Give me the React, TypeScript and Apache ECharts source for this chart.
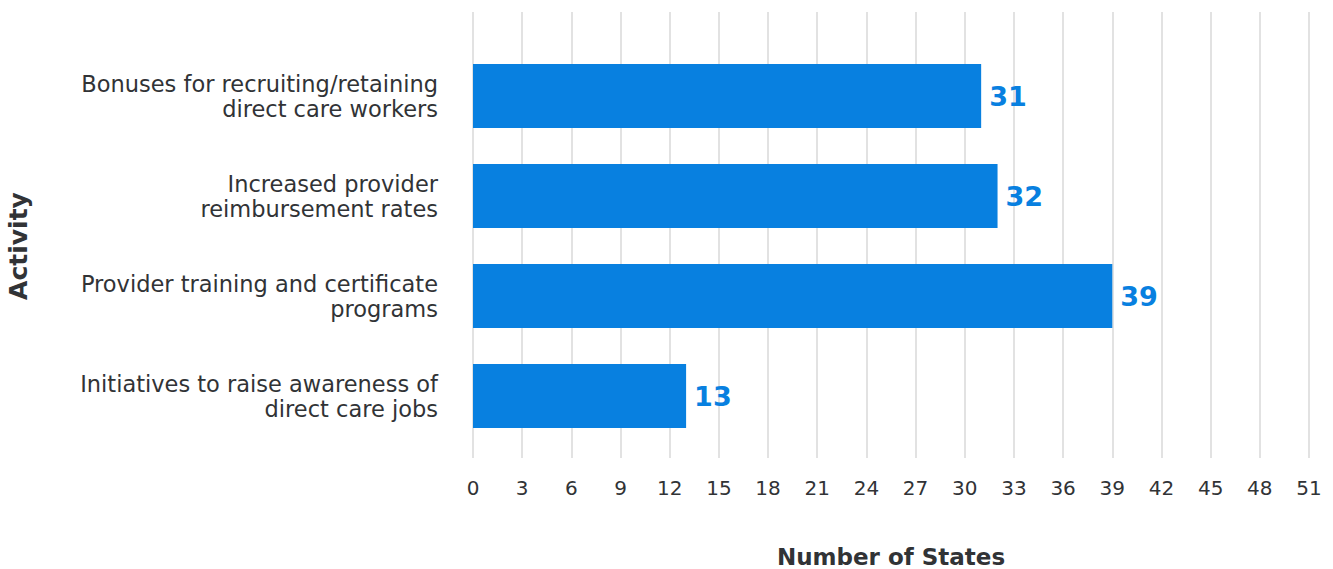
import React, { useEffect, useRef } from "react";
import * as echarts from "echarts";

const categories = [
  "Bonuses for recruiting/retaining\ndirect care workers",
  "Increased provider\nreimbursement rates",
  "Provider training and certificate\nprograms",
  "Initiatives to raise awareness of\ndirect care jobs",
];
const values = [31, 32, 39, 13];
const xMin = 0;
const xMax = 51;
const xInterval = 3;

const FONT = "DejaVu Sans";
const TEXT = "#313336";
const BLUE = "#0880E0";

export default function App() {
  const ref = useRef<HTMLDivElement>(null);
  useEffect(() => {
    document.body.style.margin = "0";
    const chart = echarts.init(ref.current!, null, { renderer: "svg" });
    chart.setOption({
      animation: false,
      textStyle: { fontFamily: FONT },
      grid: [
        { left: 473, right: 24, top: 46, bottom: 123, outerBoundsMode: "none", containLabel: false },
        { left: 473, right: 24, top: 12, bottom: 111, outerBoundsMode: "none", containLabel: false },
      ],
      xAxis: [
        {
          gridIndex: 0,
          type: "value",
          min: xMin,
          max: xMax,
          interval: xInterval,
          show: false,
        },
        {
          gridIndex: 1,
          type: "value",
          min: xMin,
          max: xMax,
          interval: xInterval,
          axisLine: { show: false },
          axisTick: { show: false },
          splitLine: { show: true, lineStyle: { color: "#d9d9d9", width: 1.5 } },
          axisLabel: {
            margin: 20,
            fontSize: 20,
            fontWeight: 500,
            color: TEXT,
            fontFamily: FONT,
          },
          name: "Number of States",
          nameLocation: "middle",
          nameGap: 87,
          nameTextStyle: {
            fontSize: 23,
            lineHeight: 23,
            fontWeight: "bold",
            color: TEXT,
            fontFamily: FONT,
          },
        },
      ],
      yAxis: [
        {
          gridIndex: 0,
          type: "category",
          data: categories,
          inverse: true,
          axisLine: { show: false },
          axisTick: { show: false },
          splitLine: { show: false },
          axisLabel: {
            margin: 35,
            fontSize: 22.5,
            fontWeight: 500,
            lineHeight: 25,
            color: TEXT,
            align: "right",
            fontFamily: FONT,
          },
          name: "Activity",
          nameLocation: "middle",
          nameGap: 442,
          nameTextStyle: {
            fontSize: 25,
            fontWeight: "bold",
            color: TEXT,
            fontFamily: FONT,
          },
        },
        {
          gridIndex: 1,
          type: "value",
          show: false,
        },
      ],
      series: [
        {
          type: "bar",
          xAxisIndex: 0,
          yAxisIndex: 0,
          data: values,
          barWidth: 64,
          itemStyle: { color: BLUE },
          label: {
            show: true,
            position: "right",
            distance: 8,
            fontSize: 27,
            fontWeight: "bold",
            color: BLUE,
            fontFamily: FONT,
          },
        },
      ],
    });
    return () => chart.dispose();
  }, []);
  return <div ref={ref} style={{ width: 1333, height: 569 }} />;
}
